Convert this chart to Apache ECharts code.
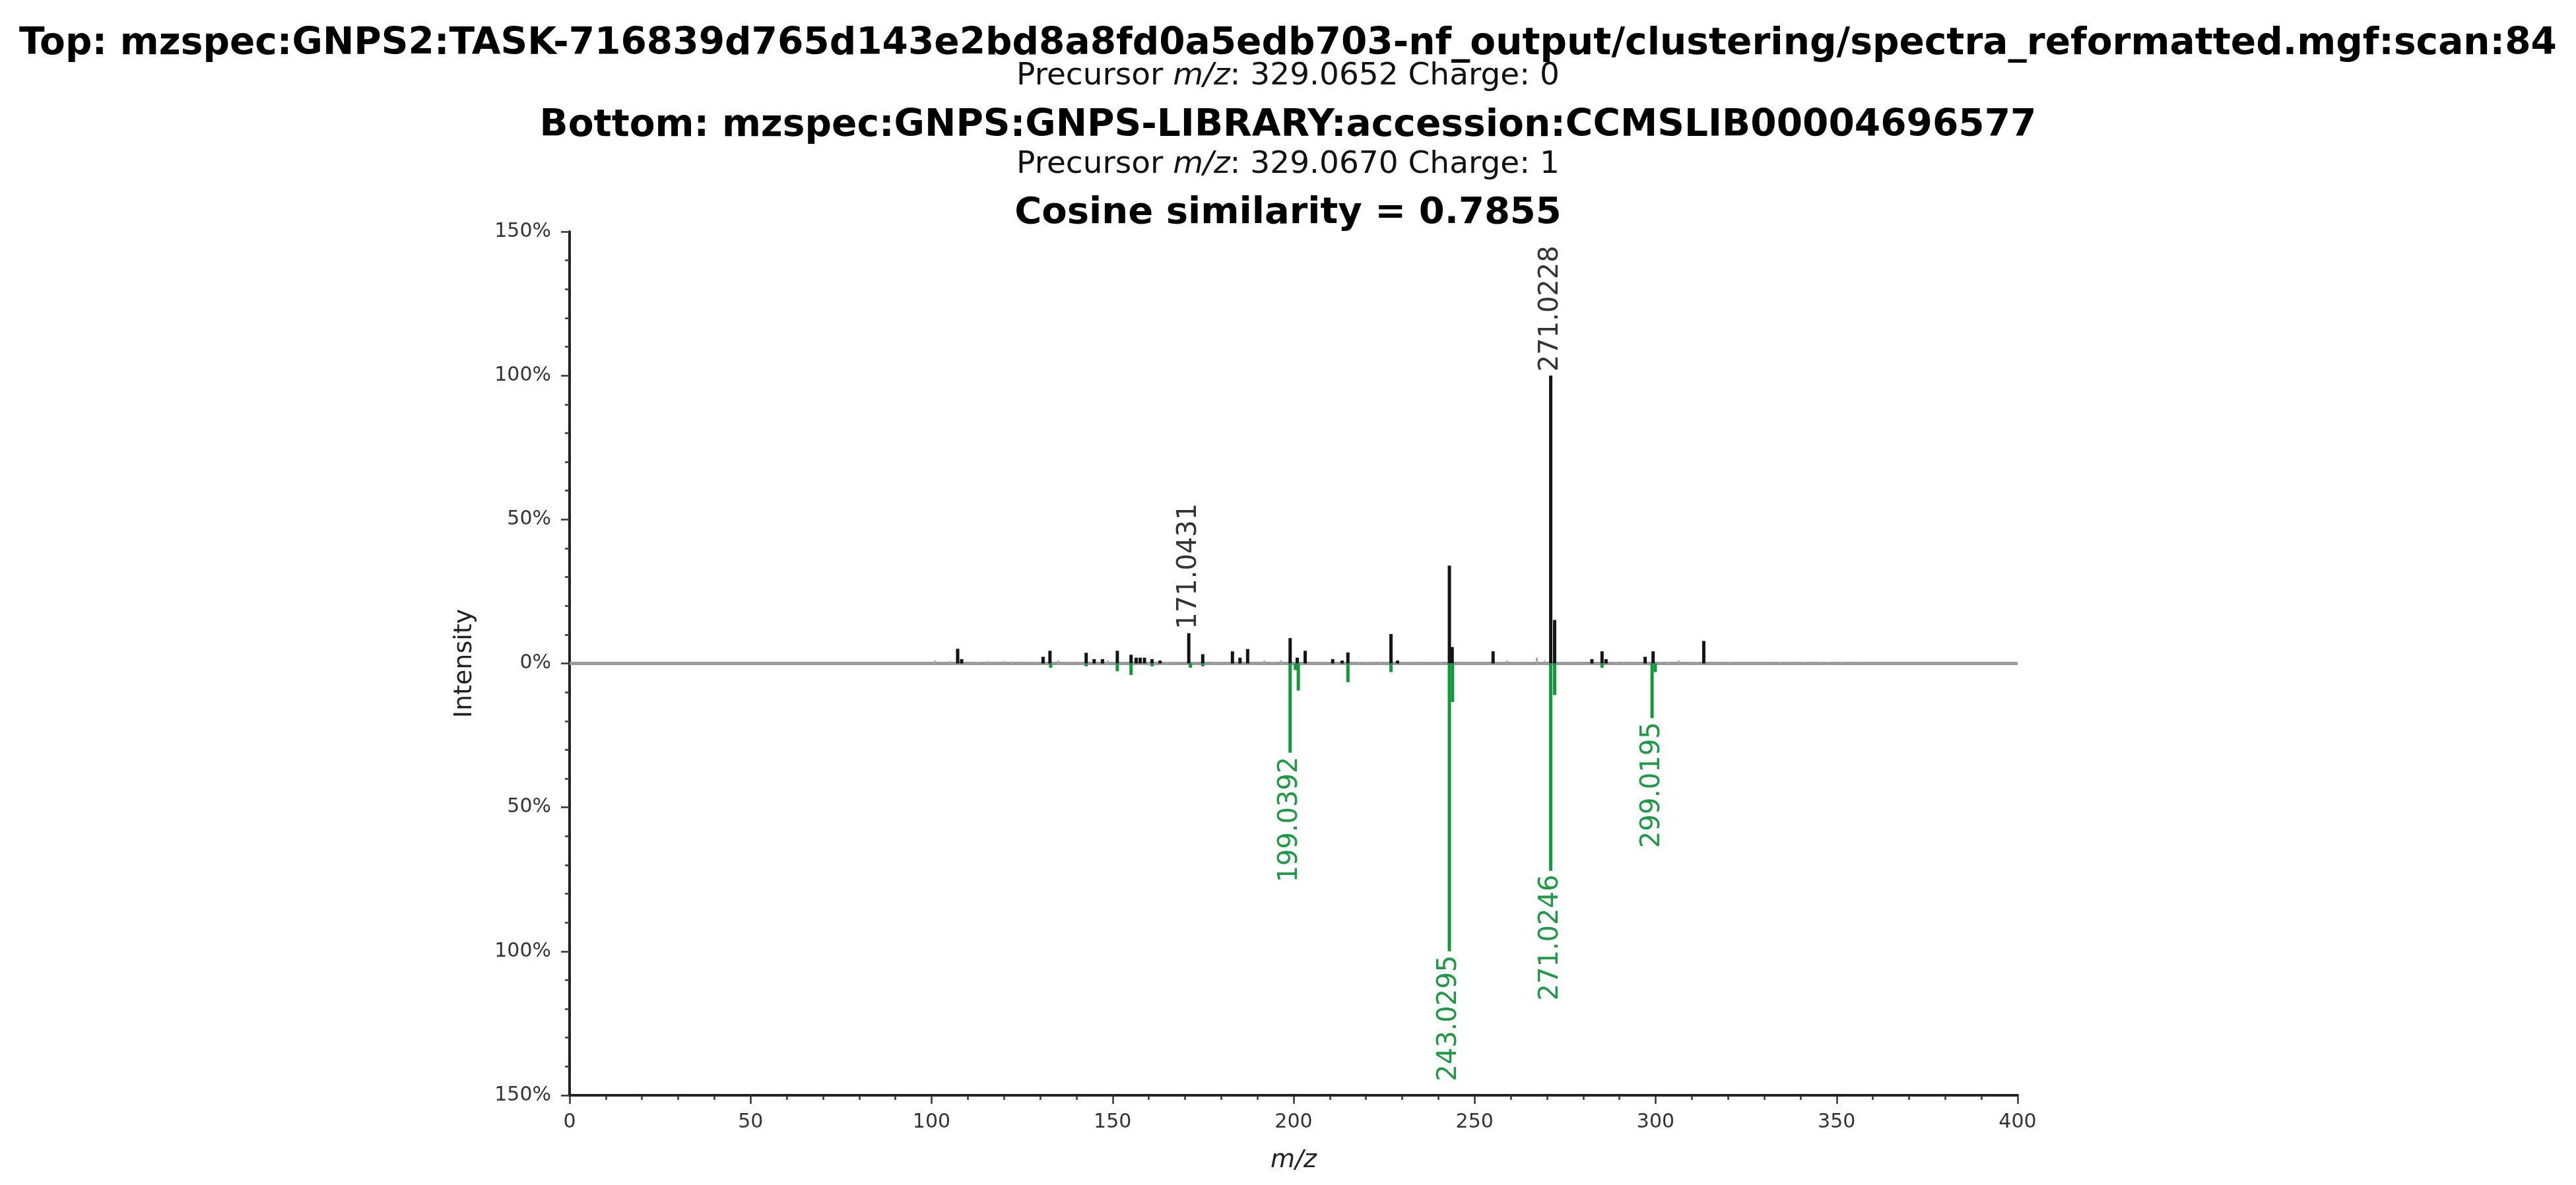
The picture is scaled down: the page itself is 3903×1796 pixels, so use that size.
<!DOCTYPE html>
<html>
<head>
<meta charset="utf-8">
<script src="https://cdn.jsdelivr.net/npm/echarts@6/dist/echarts.min.js"></script>
<style>
  html, body { margin: 0; padding: 0; background: #fff; }
  #mirror { width: 3903px; height: 1796px; }
</style>
</head>
<body>
<div id="mirror"></div>
<script>
  // titles
  var topTitle = 'Top: mzspec:GNPS2:TASK-716839d765d143e2bd8a8fd0a5edb703-nf_output/clustering/spectra_reformatted.mgf:scan:84';
  var topPrecursor = 'Precursor {i|m/z}: 329.0652 Charge: 0';
  var bottomTitle = 'Bottom: mzspec:GNPS:GNPS-LIBRARY:accession:CCMSLIB00004696577';
  var bottomPrecursor = 'Precursor {i|m/z}: 329.0670 Charge: 1';
  var cosineTitle = 'Cosine similarity = 0.7855';

  // top spectrum, dark peaks (m/z, relative intensity %)
  var topMz = [107.2, 108.3, 130.8, 132.7, 142.7, 144.9, 147.2, 151.3, 155.1, 156.5, 157.6, 158.8, 160.9, 163.1,
    171.0431, 174.9, 183.1, 185.2, 187.3, 199.04, 201.0, 203.2, 210.8, 213.4, 215.0, 226.9, 228.7,
    243.03, 243.8, 255.1, 271.0228, 272.1, 282.4, 285.2, 286.3, 297.1, 299.3, 313.3];
  var topIntensity = [5.1, 1.5, 2.3, 4.4, 3.7, 1.5, 1.5, 4.4, 3.0, 2.0, 2.0, 2.0, 1.5, 1.0,
    10.5, 3.2, 4.2, 2.0, 5.0, 8.8, 2.0, 4.4, 1.5, 1.0, 3.8, 10.2, 1.0,
    34.0, 5.7, 4.2, 100, 15.1, 1.5, 4.2, 1.5, 2.3, 4.2, 7.8];

  // top spectrum, faint grey peaks
  var greyMz = [101.0, 105.0, 113.0, 115.5, 118.0, 120.0, 122.0, 124.0, 126.0, 128.5, 135.0, 137.0, 139.0, 148.7,
    165.0, 167.0, 178.2, 180.0, 191.9, 194.0, 196.5, 207.9, 218.0, 220.0, 222.0, 224.0, 233.3, 239.0, 240.7,
    259.0, 262.0, 267.2, 269.3, 276.6, 289.0, 291.0, 303.4, 306.3, 311.2, 320.4, 334.4, 336.8, 341.0, 345.5,
    347.7, 351.3, 356.8];
  var greyIntensity = [1.0, 0.8, 0.5, 0.7, 0.7, 0.8, 0.7, 0.6, 0.5, 0.5, 1.0, 0.5, 0.5, 1.0,
    0.5, 0.5, 0.5, 0.5, 1.0, 0.5, 1.0, 0.5, 0.5, 0.5, 0.5, 0.7, 0.5, 0.5, 0.5,
    1.0, 0.5, 2.0, 1.0, 0.5, 0.5, 0.5, 0.5, 1.0, 0.5, 0.5, 0.5, 0.5, 0.5, 0.5,
    0.5, 0.5, 0.5];

  // bottom (library) spectrum
  var bottomMz = [132.9, 142.7, 151.3, 155.1, 160.9, 171.5, 174.9, 199.0392, 200.5, 201.3, 215.0, 226.9,
    243.0295, 243.9, 271.0246, 272.1, 285.2, 299.0195, 299.9];
  var bottomIntensity = [1.5, 1.0, 2.7, 4.0, 1.0, 1.5, 1.0, 31, 2.3, 9.4, 6.5, 3.0,
    100, 13.4, 72, 11, 1.5, 19, 3.0];

  // annotated peaks
  var topLabelMz = [171.0431, 271.0228];
  var topLabelIntensity = [10.5, 100];
  var bottomLabelMz = [199.0392, 243.0295, 271.0246, 299.0195];
  var bottomLabelIntensity = [31, 100, 72, 19];

  var font = 'DejaVu Sans';

  function pairs(xs, ys, sign) {
    return xs.map(function (x, i) { return [x, sign * ys[i]]; });
  }

  function stick(color, width) {
    return function (params, api) {
      var a = api.coord([api.value(0), 0]);
      var b = api.coord([api.value(0), api.value(1)]);
      return {
        type: 'line',
        shape: { x1: a[0], y1: a[1], x2: b[0], y2: b[1] },
        style: { stroke: color, lineWidth: width }
      };
    };
  }

  function peakLabel(color) {
    return function (params, api) {
      var v = api.value(1);
      var p = api.coord([api.value(0), v]);
      var up = v > 0;
      return {
        type: 'text',
        x: p[0],
        y: p[1] + (up ? -6 : 6),
        rotation: Math.PI / 2,
        style: {
          text: api.value(0).toFixed(4),
          fill: color,
          font: '40px "' + font + '"',
          align: up ? 'left' : 'right',
          verticalAlign: 'middle'
        }
      };
    };
  }

  function titleLine(text, top, size, bold, color) {
    return {
      text: text,
      left: 'center',
      top: top,
      padding: 0,
      textStyle: {
        fontFamily: font,
        fontSize: size,
        fontWeight: bold ? 'bold' : 'normal',
        color: color,
        rich: { i: { fontFamily: font, fontSize: size, fontStyle: 'italic', color: color } }
      }
    };
  }

  var chart = echarts.init(document.getElementById('mirror'));

  var option = {
    animation: false,
    backgroundColor: '#fff',
    title: [
      titleLine(topTitle, 39, 56.6, true, '#000'),
      titleLine(topPrecursor, 92, 47, false, '#111'),
      titleLine(bottomTitle, 163, 56.6, true, '#000'),
      titleLine(bottomPrecursor, 226, 47, false, '#111'),
      titleLine(cosineTitle, 295, 56, true, '#000')
    ],
    grid: { left: 863, right: 846, top: 351, bottom: 136 },
    xAxis: {
      type: 'value',
      min: 0,
      max: 400,
      interval: 50,
      name: 'm/z',
      nameLocation: 'middle',
      nameGap: 80,
      nameTextStyle: { fontFamily: font, fontSize: 38, fontStyle: 'italic', color: '#222' },
      axisLine: { onZero: false, lineStyle: { color: '#222', width: 4 } },
      axisTick: { length: 13, lineStyle: { color: '#333', width: 2.5 } },
      minorTick: { show: true, splitNumber: 5, length: 7, lineStyle: { color: '#333', width: 2.5 } },
      axisLabel: { fontFamily: font, fontSize: 30, color: '#333', margin: 26 },
      splitLine: { show: false }
    },
    yAxis: {
      type: 'value',
      min: -150,
      max: 150,
      interval: 50,
      name: 'Intensity',
      nameLocation: 'middle',
      nameGap: 140,
      nameTextStyle: { fontFamily: font, fontSize: 38, color: '#222' },
      axisLine: { lineStyle: { color: '#222', width: 4 } },
      axisTick: { length: 13, lineStyle: { color: '#333', width: 2.5 } },
      minorTick: { show: true, splitNumber: 5, length: 7, lineStyle: { color: '#333', width: 2.5 } },
      axisLabel: {
        fontFamily: font, fontSize: 30, color: '#333', margin: 28,
        formatter: function (v) { return Math.abs(v) + '%'; }
      },
      splitLine: { show: false }
    },
    series: [
      {
        type: 'line',
        data: [[0, 0], [400, 0]],
        symbol: 'none',
        lineStyle: { color: '#999', width: 5 },
        z: 1
      },
      {
        type: 'custom',
        renderItem: stick('#a8a8a8', 3),
        data: pairs(greyMz, greyIntensity, 1),
        z: 2
      },
      {
        type: 'custom',
        renderItem: stick('#151515', 5),
        data: pairs(topMz, topIntensity, 1),
        z: 3
      },
      {
        type: 'custom',
        renderItem: stick('#12993c', 5),
        data: pairs(bottomMz, bottomIntensity, -1),
        z: 3
      },
      {
        type: 'custom',
        renderItem: peakLabel('#333'),
        data: pairs(topLabelMz, topLabelIntensity, 1),
        z: 4
      },
      {
        type: 'custom',
        renderItem: peakLabel('#1e9a45'),
        data: pairs(bottomLabelMz, bottomLabelIntensity, -1),
        z: 4
      }
    ]
  };

  chart.setOption(option);
</script>
</body>
</html>
